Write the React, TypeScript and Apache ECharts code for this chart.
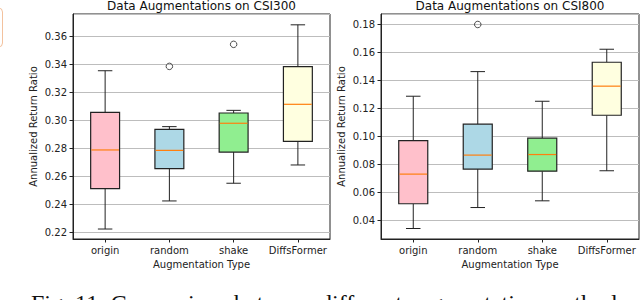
import React, { useEffect, useRef } from "react";
import * as echarts from "echarts";

const categories = ["origin", "random", "shake", "DiffsFormer"];

// CSI300 box statistics
const csi300Min = [0.2226, 0.2426, 0.2552, 0.2682];
const csi300Q1 = [0.2513, 0.2656, 0.2774, 0.285];
const csi300Median = [0.2789, 0.2786, 0.2979, 0.3114];
const csi300Q3 = [0.3057, 0.2936, 0.3052, 0.3382];
const csi300Max = [0.3353, 0.2955, 0.3071, 0.368];
const csi300OutlierCat = [1, 2];
const csi300OutlierVal = [0.3384, 0.3541];

// CSI800 box statistics
const csi800Min = [0.0341, 0.0491, 0.0539, 0.0754];
const csi800Q1 = [0.0518, 0.0766, 0.0751, 0.1151];
const csi800Median = [0.073, 0.0866, 0.087, 0.1359];
const csi800Q3 = [0.097, 0.1087, 0.0987, 0.153];
const csi800Max = [0.1287, 0.1463, 0.1251, 0.1623];
const csi800OutlierCat = [1];
const csi800OutlierVal = [0.18];

const boxColors = ["#ffc0cb", "#add8e6", "#90ee90", "#ffffe0"];
const FONT = "DejaVu Sans";
const INK = "#222";

function boxData(mn: number[], q1: number[], md: number[], q3: number[], mx: number[]) {
  return categories.map((_, i) => [i, mn[i], q1[i], md[i], q3[i], mx[i]]);
}

function renderBox(params: any, api: any) {
  const i = api.value(0);
  const pLo = api.coord([i, api.value(1)]);
  const pQ1 = api.coord([i, api.value(2)]);
  const pMd = api.coord([i, api.value(3)]);
  const pQ3 = api.coord([i, api.value(4)]);
  const pHi = api.coord([i, api.value(5)]);
  const bw = api.size([1, 0])[0] * 0.45;
  const cw = bw / 2;
  const x = pMd[0];
  const ls = { stroke: INK, lineWidth: 1 };
  return {
    type: "group",
    children: [
      { type: "line", shape: { x1: x, y1: pHi[1], x2: x, y2: pQ3[1] }, style: ls },
      { type: "line", shape: { x1: x, y1: pLo[1], x2: x, y2: pQ1[1] }, style: ls },
      { type: "line", shape: { x1: x - cw / 2, y1: pHi[1], x2: x + cw / 2, y2: pHi[1] }, style: ls },
      { type: "line", shape: { x1: x - cw / 2, y1: pLo[1], x2: x + cw / 2, y2: pLo[1] }, style: ls },
      {
        type: "rect",
        shape: { x: x - bw / 2, y: pQ3[1], width: bw, height: pQ1[1] - pQ3[1] },
        style: { fill: boxColors[i], stroke: INK, lineWidth: 1.2 },
      },
      {
        type: "line",
        shape: { x1: x - bw / 2 + 0.6, y1: pMd[1], x2: x + bw / 2 - 0.6, y2: pMd[1] },
        style: { stroke: "#ff7f0e", lineWidth: 1.2 },
      },
    ],
  };
}

function xAxisCfg(gridIndex: number) {
  return {
    type: "category",
    gridIndex,
    data: categories,
    boundaryGap: true,
    name: "Augmentation Type",
    nameLocation: "middle",
    nameGap: 20,
    nameTextStyle: { fontFamily: FONT, fontSize: 10, color: INK },
    axisLine: { show: true, lineStyle: { color: INK, width: 1 } },
    axisTick: { show: true, alignWithLabel: true, interval: 0, length: 3.5, lineStyle: { color: INK } },
    axisLabel: { fontFamily: FONT, fontSize: 10, color: INK, margin: 6, interval: 0, hideOverlap: false },
    splitLine: { show: false },
  };
}

function yAxisCfg(gridIndex: number, min: number, max: number) {
  return {
    type: "value",
    gridIndex,
    min,
    max,
    splitNumber: 8,
    name: "Annualized Return Ratio",
    nameLocation: "middle",
    nameGap: 35,
    nameTextStyle: { fontFamily: FONT, fontSize: 10, color: INK },
    axisLine: { show: true, lineStyle: { color: INK, width: 1 } },
    axisTick: { show: true, length: 3.5, lineStyle: { color: INK } },
    axisLabel: {
      fontFamily: FONT,
      fontSize: 10,
      color: INK,
      margin: 6,
      showMinLabel: false,
      showMaxLabel: false,
      formatter: (v: number) => v.toFixed(2),
    },
    splitLine: { show: true, lineStyle: { color: "#bdbdbd", width: 1 } },
  };
}

export default function App() {
  const ref = useRef<HTMLDivElement>(null);
  useEffect(() => {
    if (!ref.current) return;
    const chart = echarts.init(ref.current, null, { renderer: "svg" });
    const option: any = {
      animation: false,
      backgroundColor: "#ffffff",
      grid: [
        { left: 73, top: 14, width: 257, height: 225, show: true, borderColor: INK, borderWidth: 1, backgroundColor: "transparent" },
        { left: 381, top: 14, width: 258, height: 225, show: true, borderColor: INK, borderWidth: 1, backgroundColor: "transparent" },
      ],
      xAxis: [xAxisCfg(0), xAxisCfg(1)],
      yAxis: [yAxisCfg(0, 0.2155, 0.3757), yAxisCfg(1, 0.0266, 0.1875)],
      series: [
        {
          type: "custom",
          xAxisIndex: 0,
          yAxisIndex: 0,
          renderItem: renderBox,
          encode: { x: 0, y: [1, 2, 3, 4, 5] },
          data: boxData(csi300Min, csi300Q1, csi300Median, csi300Q3, csi300Max),
          z: 3,
        },
        {
          type: "custom",
          xAxisIndex: 1,
          yAxisIndex: 1,
          renderItem: renderBox,
          encode: { x: 0, y: [1, 2, 3, 4, 5] },
          data: boxData(csi800Min, csi800Q1, csi800Median, csi800Q3, csi800Max),
          z: 3,
        },
        {
          type: "scatter",
          xAxisIndex: 0,
          yAxisIndex: 0,
          symbol: "circle",
          symbolSize: 6.5,
          itemStyle: { color: "rgba(255,255,255,0)", borderColor: INK, borderWidth: 1 },
          data: csi300OutlierCat.map((c, i) => [c, csi300OutlierVal[i]]),
          z: 4,
        },
        {
          type: "scatter",
          xAxisIndex: 1,
          yAxisIndex: 1,
          symbol: "circle",
          symbolSize: 6.5,
          itemStyle: { color: "rgba(255,255,255,0)", borderColor: INK, borderWidth: 1 },
          data: csi800OutlierCat.map((c, i) => [c, csi800OutlierVal[i]]),
          z: 4,
        },
      ],
      graphic: [
        {
          type: "text",
          x: 201.5,
          y: 6,
          style: { text: "Data Augmentations on CSI300", fontFamily: FONT, fontSize: 12, fill: "#111", align: "center", verticalAlign: "middle" },
        },
        {
          type: "text",
          x: 510,
          y: 6,
          style: { text: "Data Augmentations on CSI800", fontFamily: FONT, fontSize: 12, fill: "#111", align: "center", verticalAlign: "middle" },
        },
        {
          type: "rect",
          shape: { x: -8, y: 8, width: 10.5, height: 39, r: 4 },
          style: { fill: "#ffffff", stroke: "#f3c29e", lineWidth: 1 },
        },
        {
          type: "text",
          x: 31,
          y: 303,
          style: {
            text: "Fig. 11: Comparison between different augmentation methods",
            fontFamily: "Liberation Serif",
            fontSize: 24,
            fill: "#111",
            align: "left",
            verticalAlign: "middle",
          },
        },
      ],
    };
    chart.setOption(option);
    return () => chart.dispose();
  }, []);
  return (
    <div
      ref={ref}
      style={{ position: "fixed", left: 0, top: 0, width: 640, height: 300, background: "#fff" }}
    />
  );
}
